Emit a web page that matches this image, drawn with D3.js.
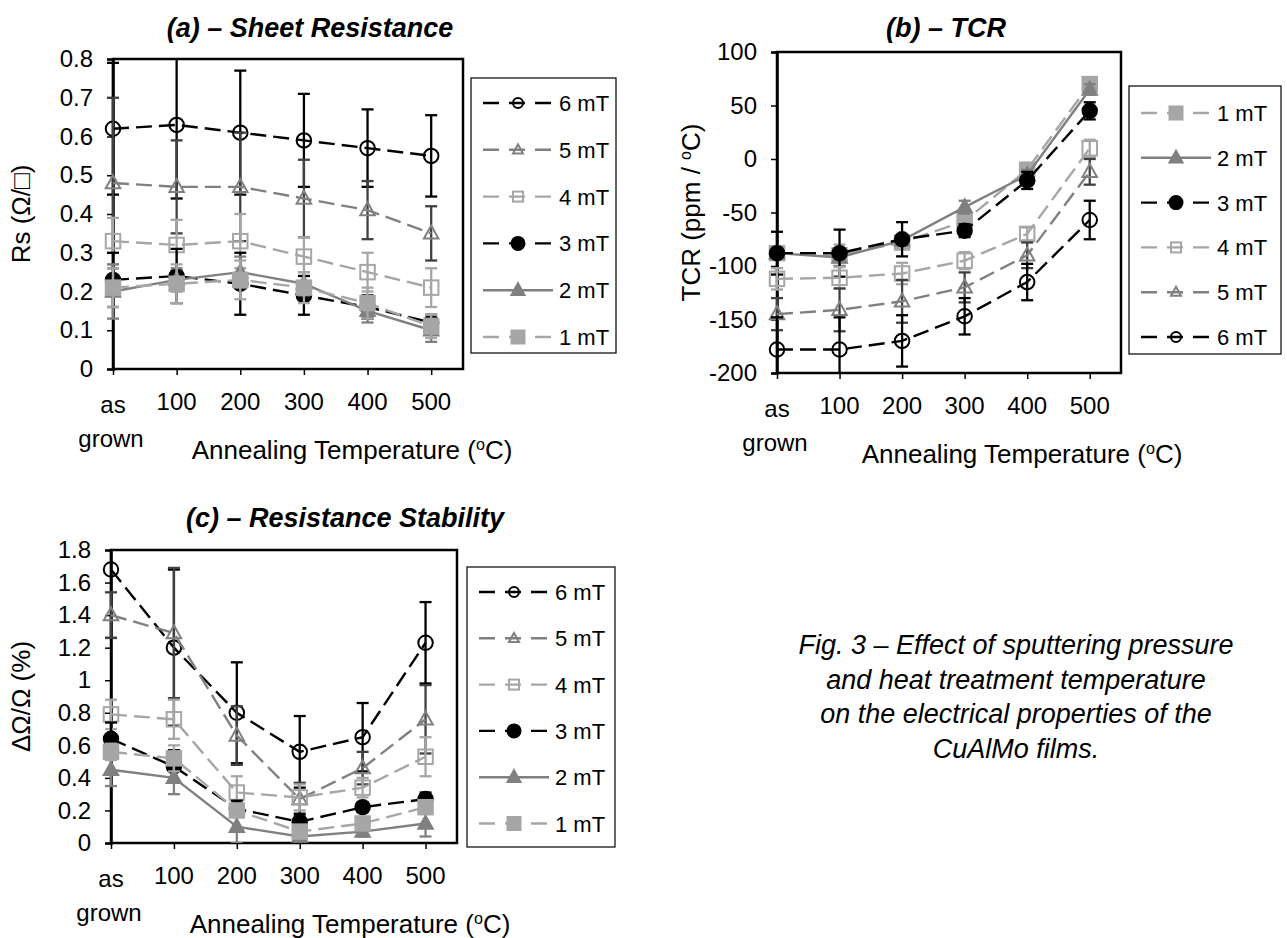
<!DOCTYPE html>
<html><head><meta charset="utf-8">
<script src="https://cdn.jsdelivr.net/npm/d3@7"></script>
<style>
body{margin:0;background:#fff}
svg{display:block}
text{font-family:"Liberation Sans",Arial,Helvetica,sans-serif;fill:#000}
</style>
</head><body>
<svg id="chart" width="1287" height="938"></svg>
<script>
// ---------------- DATA ----------------
const categories = ["as grown", "100", "200", "300", "400", "500"];
const seriesNames = ["1 mT", "2 mT", "3 mT", "4 mT", "5 mT", "6 mT"];

// (a) Sheet resistance Rs (Ohm/sq)
const rs1 = [0.21, 0.22, 0.23, 0.21, 0.17, 0.11];
const rs2 = [0.20, 0.23, 0.25, 0.22, 0.15, 0.10];
const rs3 = [0.23, 0.24, 0.22, 0.19, 0.16, 0.12];
const rs4 = [0.33, 0.32, 0.33, 0.29, 0.25, 0.21];
const rs5 = [0.48, 0.47, 0.47, 0.44, 0.41, 0.35];
const rs6 = [0.62, 0.63, 0.61, 0.59, 0.57, 0.55];
const rsErr1 = [0.05, 0.05, 0.05, 0.04, 0.04, 0.03];
const rsErr2 = [0.07, 0.03, 0.04, 0.03, 0.03, 0.03];
const rsErr3 = [0.07, 0.07, 0.08, 0.05, 0.03, 0.02];
const rsErr4 = [0.06, 0.065, 0.07, 0.05, 0.05, 0.05];
const rsErr5 = [0.22, 0.12, 0.14, 0.10, 0.075, 0.07];
const rsErr6 = [0.17, 0.19, 0.16, 0.12, 0.10, 0.105];
const rsTicks = [0, 0.1, 0.2, 0.3, 0.4, 0.5, 0.6, 0.7, 0.8];

// (b) TCR (ppm/oC)
const tcr1 = [-88, -90, -78, -58, -10, 70];
const tcr2 = [-88, -92, -76, -45, -15, 65];
const tcr3 = [-88, -88, -75, -67, -20, 45];
const tcr4 = [-112, -111, -107, -95, -70, 10];
const tcr5 = [-145, -141, -133, -120, -90, -12];
const tcr6 = [-178, -178, -170, -147, -115, -57];
const tcrErr1 = [5, 10, 5, 5, 4, 5];
const tcrErr2 = [5, 8, 5, 6, 5, 5];
const tcrErr3 = [20, 22, 16, 6, 8, 8];
const tcrErr4 = [10, 10, 10, 8, 6, 8];
const tcrErr5 = [15, 20, 20, 14, 12, 12];
const tcrErr6 = [30, 30, 24, 17, 17, 18];
const tcrTicks = [-200, -150, -100, -50, 0, 50, 100];

// (c) Resistance stability dOhm/Ohm (%)
const st1 = [0.56, 0.52, 0.20, 0.07, 0.12, 0.22];
const st2 = [0.45, 0.40, 0.10, 0.04, 0.07, 0.12];
const st3 = [0.64, 0.47, 0.21, 0.13, 0.22, 0.27];
const st4 = [0.79, 0.76, 0.31, 0.28, 0.34, 0.53];
const st5 = [1.40, 1.29, 0.66, 0.27, 0.46, 0.76];
const st6 = [1.68, 1.20, 0.80, 0.56, 0.65, 1.23];
const stErr1 = [0.05, 0.08, 0.03, 0.03, 0.03, 0.03];
const stErr2 = [0.10, 0.10, 0.10, 0.03, 0.03, 0.08];
const stErr3 = [0.10, 0.10, 0.05, 0.05, 0.03, 0.04];
const stErr4 = [0.09, 0.12, 0.10, 0.08, 0.06, 0.12];
const stErr5 = [0.14, 0.40, 0.18, 0.10, 0.10, 0.21];
const stErr6 = [0.42, 0.48, 0.31, 0.22, 0.21, 0.25];
const stTicks = [0, 0.2, 0.4, 0.6, 0.8, 1, 1.2, 1.4, 1.6, 1.8];

// ---------------- STYLES ----------------
const styles = {
  "1 mT": {color:"#a6a6a6", err:"#a6a6a6", dash:"16,7", marker:"square", fill:true},
  "2 mT": {color:"#808080", err:"#808080", dash:null,   marker:"triangle", fill:true},
  "3 mT": {color:"#000000", err:"#000000", dash:"16,7", marker:"circle", fill:true},
  "4 mT": {color:"#a6a6a6", err:"#a6a6a6", dash:"16,7", marker:"square", fill:false},
  "5 mT": {color:"#808080", err:"#404040", dash:"16,7", marker:"triangle", fill:false},
  "6 mT": {color:"#000000", err:"#000000", dash:"16,7", marker:"circle", fill:false}
};

const svg = d3.select("#chart");
const FONT_TICK = 24, FONT_AXIS = 26, FONT_LEG = 22, FONT_TITLE = 27;

function drawMarker(g, type, fill, color, cx, cy, s) {
  if (type === "circle") {
    g.append("circle").attr("cx", cx).attr("cy", cy).attr("r", s/2)
      .attr("fill", fill ? color : "none").attr("stroke", color).attr("stroke-width", 2);
  } else if (type === "square") {
    g.append("rect").attr("x", cx - s/2).attr("y", cy - s/2).attr("width", s).attr("height", s)
      .attr("fill", fill ? color : "none").attr("stroke", color).attr("stroke-width", 2);
  } else {
    const h = s * 0.9;
    g.append("path").attr("d", `M${cx},${cy - h*0.6}L${cx + s/2},${cy + h*0.4}L${cx - s/2},${cy + h*0.4}Z`)
      .attr("fill", fill ? color : "none").attr("stroke", color).attr("stroke-width", 2)
      .attr("stroke-linejoin", "miter");
  }
}

function panel(cfg) {
  const x = d3.scaleLinear().domain([0, 5.5]).range([cfg.left, cfg.right]);
  const y = d3.scaleLinear().domain(cfg.yDomain).range([cfg.bottom, cfg.top]);
  const g = svg.append("g");

  // plot frame
  g.append("rect").attr("x", cfg.left).attr("y", cfg.top)
    .attr("width", cfg.right - cfg.left).attr("height", cfg.bottom - cfg.top)
    .attr("fill", "none").attr("stroke", "#000").attr("stroke-width", 2.5);

  // y axis
  const ya = g.append("g").attr("transform", `translate(${cfg.left},0)`)
    .call(d3.axisLeft(y).tickValues(cfg.yTicks).tickSize(6).tickPadding(14)
      .tickFormat(d => String(d)));
  ya.select(".domain").attr("stroke-width", 2.5);
  ya.selectAll(".tick line").attr("stroke-width", 1.5);
  ya.selectAll("text").attr("font-size", FONT_TICK).attr("font-family", "Liberation Sans, Arial, sans-serif");

  // x axis
  const xa = g.append("g").attr("transform", `translate(0,${cfg.bottom})`)
    .call(d3.axisBottom(x).tickValues(d3.range(categories.length)).tickSize(6).tickFormat(""));
  xa.select(".domain").remove();
  xa.selectAll(".tick line").attr("stroke-width", 1.5);

  // x tick labels
  categories.forEach((c, i) => {
    if (i === 0) {
      g.append("text").attr("x", x(i)).attr("y", cfg.bottom + 44).attr("text-anchor", "middle")
        .attr("font-size", FONT_TICK).text("as");
      g.append("text").attr("x", x(i) - 2).attr("y", cfg.bottom + 78).attr("text-anchor", "middle")
        .attr("font-size", FONT_TICK).text("grown");
    } else {
      g.append("text").attr("x", x(i)).attr("y", cfg.bottom + 41).attr("text-anchor", "middle")
        .attr("font-size", FONT_TICK).text(c);
    }
  });

  // x axis title
  const xt = g.append("text").attr("x", cfg.xTitleX).attr("y", cfg.bottom + 90)
    .attr("text-anchor", "middle").attr("font-size", FONT_AXIS);
  xt.append("tspan").text("Annealing Temperature (");
  xt.append("tspan").attr("font-size", FONT_AXIS * 0.62).attr("dy", -9).text("o");
  xt.append("tspan").attr("dy", 9).text("C)");

  // y axis title
  const yt = g.append("text")
    .attr("transform", `translate(${cfg.yTitleX},${(cfg.top + cfg.bottom)/2}) rotate(-90)`)
    .attr("text-anchor", "middle").attr("font-size", FONT_AXIS);
  cfg.yTitle(yt);

  // chart title
  g.append("text").attr("x", cfg.titleX).attr("y", cfg.titleY).attr("text-anchor", "middle")
    .attr("font-size", FONT_TITLE).attr("font-weight", "bold").attr("font-style", "italic")
    .text(cfg.title);

  // clip for error bars
  const clipId = "clip" + cfg.id;
  svg.append("clipPath").attr("id", clipId).append("rect")
    .attr("x", cfg.left - 30).attr("y", cfg.top).attr("width", cfg.right - cfg.left + 60)
    .attr("height", cfg.bottom - cfg.top);

  // series
  cfg.drawOrder.forEach(name => {
    const idx = seriesNames.indexOf(name);
    const vals = cfg.values[idx], errs = cfg.errors[idx];
    const st = styles[name];
    const sg = g.append("g");
    // error bars
    const eg = sg.append("g").attr("clip-path", `url(#${clipId})`)
      .attr("stroke", st.err).attr("stroke-width", 2.3);
    vals.forEach((v, i) => {
      const e = errs[i];
      const xi = x(i);
      eg.append("line").attr("x1", xi).attr("x2", xi).attr("y1", y(v - e)).attr("y2", y(v + e));
      eg.append("line").attr("x1", xi - 6).attr("x2", xi + 6).attr("y1", y(v + e)).attr("y2", y(v + e));
      eg.append("line").attr("x1", xi - 6).attr("x2", xi + 6).attr("y1", y(v - e)).attr("y2", y(v - e));
    });
    // line
    sg.append("path").datum(vals)
      .attr("d", d3.line().x((d, i) => x(i)).y(d => y(d)))
      .attr("fill", "none").attr("stroke", st.color).attr("stroke-width", 2.4)
      .attr("stroke-dasharray", st.dash);
    // markers
    vals.forEach((v, i) => drawMarker(sg, st.marker, st.fill, st.color, x(i), y(v), 14.5));
  });

  // legend
  const L = cfg.legend;
  g.append("rect").attr("x", L.x).attr("y", L.y).attr("width", L.w).attr("height", L.h)
    .attr("fill", "#fff").attr("stroke", "#000").attr("stroke-width", 1.2);
  L.order.forEach((name, k) => {
    const st = styles[name];
    const cy = L.firstY + k * L.step;
    const lx0 = L.x + 12, lx1 = L.x + 82;
    g.append("line").attr("x1", lx0).attr("x2", lx1).attr("y1", cy).attr("y2", cy)
      .attr("stroke", st.color).attr("stroke-width", 2.4)
      .attr("stroke-dasharray", st.dash ? "16,10" : null);
    drawMarker(g, st.marker, st.fill, st.color, (lx0 + lx1)/2, cy, st.fill ? 13 : 10);
    g.append("text").attr("x", lx1 + 6).attr("y", cy + 8).attr("font-size", FONT_LEG).text(name);
  });
}

// (a)
panel({
  id: "a", left: 113, right: 463, top: 59, bottom: 369,
  yDomain: [0, 0.8], yTicks: rsTicks,
  values: [rs1, rs2, rs3, rs4, rs5, rs6], errors: [rsErr1, rsErr2, rsErr3, rsErr4, rsErr5, rsErr6],
  drawOrder: ["6 mT", "5 mT", "4 mT", "3 mT", "2 mT", "1 mT"],
  title: "(a) – Sheet Resistance", titleX: 310, titleY: 37,
  xTitleX: 352, yTitleX: 30,
  yTitle: t => t.text("Rs (Ω/□)"),
  legend: {x: 471, y: 78, w: 145, h: 275, firstY: 103, step: 46.8,
           order: ["6 mT", "5 mT", "4 mT", "3 mT", "2 mT", "1 mT"]}
});

// (b)
panel({
  id: "b", left: 777, right: 1121, top: 52, bottom: 373,
  yDomain: [-200, 100], yTicks: tcrTicks,
  values: [tcr1, tcr2, tcr3, tcr4, tcr5, tcr6], errors: [tcrErr1, tcrErr2, tcrErr3, tcrErr4, tcrErr5, tcrErr6],
  drawOrder: ["1 mT", "2 mT", "3 mT", "4 mT", "5 mT", "6 mT"],
  title: "(b) – TCR", titleX: 946, titleY: 37,
  xTitleX: 1022, yTitleX: 700,
  yTitle: t => { t.append("tspan").text("TCR (ppm / ");
                 t.append("tspan").attr("font-size", FONT_AXIS*0.62).attr("dy", -9).text("o");
                 t.append("tspan").attr("dy", 9).text("C)"); },
  legend: {x: 1129, y: 86, w: 152, h: 268, firstY: 113, step: 44.8,
           order: ["1 mT", "2 mT", "3 mT", "4 mT", "5 mT", "6 mT"]}
});

// (c)
panel({
  id: "c", left: 111, right: 457, top: 550, bottom: 843,
  yDomain: [0, 1.8], yTicks: stTicks,
  values: [st1, st2, st3, st4, st5, st6], errors: [stErr1, stErr2, stErr3, stErr4, stErr5, stErr6],
  drawOrder: ["6 mT", "5 mT", "4 mT", "3 mT", "2 mT", "1 mT"],
  title: "(c) – Resistance Stability", titleX: 345, titleY: 527,
  xTitleX: 350, yTitleX: 30,
  yTitle: t => t.text("ΔΩ/Ω (%)"),
  legend: {x: 467, y: 567, w: 148, h: 280, firstY: 592, step: 46.3,
           order: ["6 mT", "5 mT", "4 mT", "3 mT", "2 mT", "1 mT"]}
});

// caption
const captionLines = ["Fig. 3 – Effect of sputtering pressure", "and heat treatment temperature",
                      "on the electrical properties of the", "CuAlMo films."];
const cap = svg.append("text").attr("text-anchor", "middle").attr("font-size", 27)
  .attr("font-style", "italic");
captionLines.forEach((l, i) => cap.append("tspan").attr("x", 1016).attr("y", 654 + i * 34.5).text(l));
</script>
</body></html>
